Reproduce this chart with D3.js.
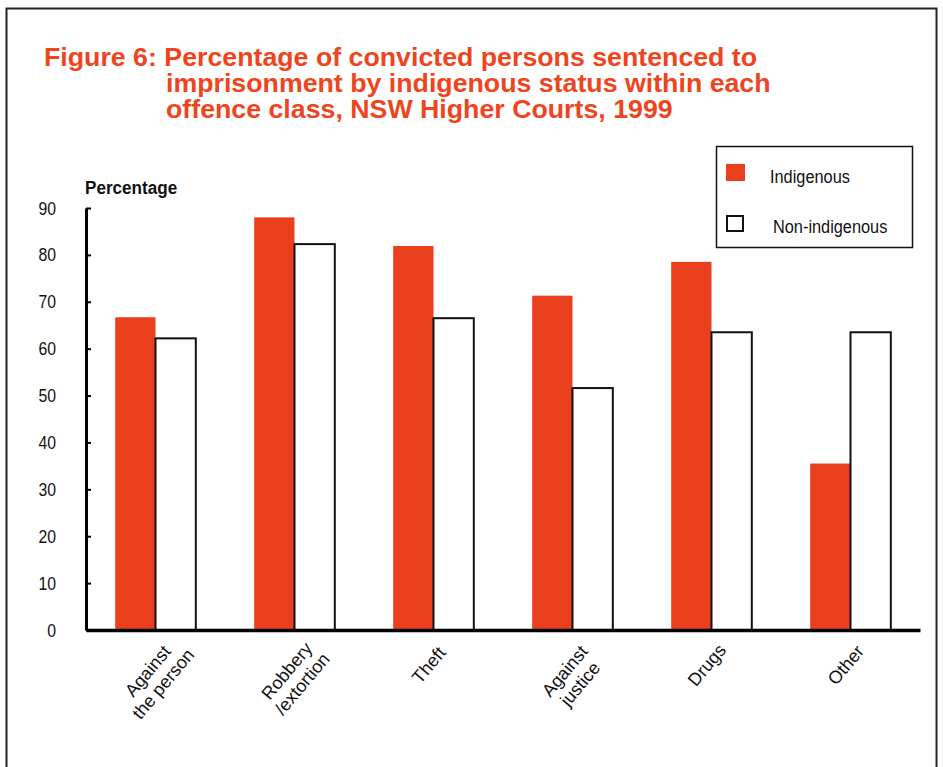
<!DOCTYPE html>
<html>
<head>
<meta charset="utf-8">
<script src="https://cdn.jsdelivr.net/npm/d3@7"></script>
<style>
  body { margin: 0; background: #fff; }
  text { font-family: Arial, "Liberation Sans", sans-serif; }
</style>
</head>
<body>
<div id="chart"></div>
<script>
// Datos
const categorias = ["Against\nthe person", "Robbery\n/extortion", "Theft", "Against\njustice", "Drugs", "Other"];
const series = ["Indigenous", "Non-indigenous"];
const indigenas = [66.7, 88.0, 81.9, 71.3, 78.5, 35.5];
const noIndigenas = [62.2, 82.3, 66.5, 51.6, 63.5, 63.5];
const ticksY = [0, 10, 20, 30, 40, 50, 60, 70, 80, 90];
const titulo = [
  "Figure 6: Percentage of convicted persons sentenced to",
  "imprisonment by indigenous status within each",
  "offence class, NSW Higher Courts, 1999"
];

const width = 943;
const height = 767;
const rojo = "#EA3F1D";

const svg = d3.select("#chart")
  .append("svg")
  .attr("width", width)
  .attr("height", height);

// Marco exterior
svg.append("rect")
  .attr("x", 6.5).attr("y", 8.5)
  .attr("width", 930).attr("height", 780)
  .attr("fill", "none")
  .attr("stroke", "#222")
  .attr("stroke-width", 2);

// Título
svg.append("g").selectAll("text")
  .data(titulo)
  .join("text")
  .attr("transform", (d, i) => `translate(${i === 0 ? 44 : 166},${66 + i * 26}) scale(1.07,1)`)
  .attr("fill", "#EE4420")
  .attr("font-size", "25px")
  .attr("font-weight", "bold")
  .text(d => d);

// Escalas
const x = d3.scaleBand()
  .domain(categorias)
  .range([86, 920])
  .paddingInner(0.42)
  .paddingOuter(0.21);

const xSerie = d3.scaleBand()
  .domain(series)
  .range([0, x.bandwidth()]);

const y = d3.scaleLinear()
  .domain([0, 90])
  .range([630, 208]);

const filas = categorias.map((c, i) => ({ cat: c, valores: [indigenas[i], noIndigenas[i]] }));

// Barras
const grupos = svg.append("g").selectAll("g")
  .data(filas)
  .join("g")
  .attr("transform", d => `translate(${x(d.cat)},0)`);

grupos.selectAll("rect")
  .data(d => d.valores.map((v, j) => ({ serie: series[j], valor: v })))
  .join("rect")
  .attr("x", d => xSerie(d.serie))
  .attr("y", d => y(d.valor))
  .attr("width", xSerie.bandwidth())
  .attr("height", d => y(0) - y(d.valor))
  .attr("fill", d => d.serie === "Indigenous" ? rojo : "#fff")
  .attr("stroke", d => d.serie === "Indigenous" ? "none" : "#111")
  .attr("stroke-width", 2);

// Eje Y
const ejeY = svg.append("g")
  .attr("transform", "translate(86,0)")
  .call(d3.axisLeft(y).tickValues(ticksY).tickSizeInner(-5).tickSizeOuter(0).tickPadding(30));

ejeY.select(".domain").attr("stroke", "#000").attr("stroke-width", 3);
ejeY.selectAll(".tick line").attr("stroke", "#000").attr("stroke-width", 2);
ejeY.selectAll(".tick text")
  .attr("font-size", "19px")
  .attr("font-family", "Arial, 'Liberation Sans', sans-serif")
  .attr("fill", "#111")
  .attr("x", -30 / 0.83)
  .attr("transform", "scale(0.83,1)");

svg.append("text")
  .attr("transform", "translate(85,194) scale(0.9,1)")
  .attr("font-size", "19px")
  .attr("font-weight", "bold")
  .attr("fill", "#111")
  .text("Percentage");

// Eje X
const ejeX = svg.append("g")
  .attr("transform", "translate(0,630)")
  .call(d3.axisBottom(x).tickSize(0).tickSizeOuter(0).tickFormat(""));

ejeX.select(".domain").attr("stroke", "#000").attr("stroke-width", 3.5);

ejeX.selectAll(".tick text").remove();
ejeX.selectAll(".tick").each(function(d) {
  const lineas = d.split("\n");
  const n = lineas.length;
  const t = d3.select(this).append("text")
    .attr("transform", `translate(${-3 * (n - 1)},${39 + 6 * (n - 1)}) rotate(-50)`)
    .attr("text-anchor", "middle")
    .attr("font-size", "18px")
    .attr("fill", "#111");
  lineas.forEach((l, i) => {
    t.append("tspan").attr("x", 0).attr("dy", i === 0 ? 0 : 20).text(l);
  });
});

// Leyenda
const leyenda = svg.append("g");
leyenda.append("rect")
  .attr("x", 716.5).attr("y", 146.5)
  .attr("width", 196).attr("height", 101)
  .attr("fill", "#fff")
  .attr("stroke", "#111")
  .attr("stroke-width", 1.5);

leyenda.append("rect")
  .attr("x", 726).attr("y", 164)
  .attr("width", 19).attr("height", 17)
  .attr("fill", rojo);

leyenda.append("rect")
  .attr("x", 727).attr("y", 216)
  .attr("width", 16).attr("height", 15)
  .attr("fill", "#fff")
  .attr("stroke", "#111")
  .attr("stroke-width", 2);

leyenda.selectAll("text.serie")
  .data(series)
  .join("text")
  .attr("class", "serie")
  .attr("transform", (d, i) => `translate(${i === 0 ? 770 : 773},${i === 0 ? 183 : 233}) scale(0.86,1)`)
  .attr("font-size", "19px")
  .attr("fill", "#111")
  .text(d => d);
</script>
</body>
</html>
